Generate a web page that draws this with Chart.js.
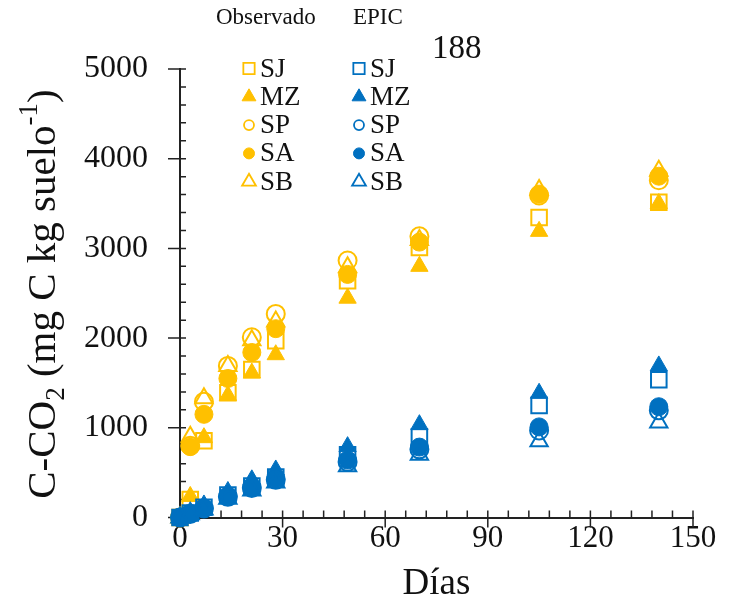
<!DOCTYPE html>
<html>
<head>
<meta charset="utf-8">
<script src="https://cdn.jsdelivr.net/npm/chart.js@4.4.0/dist/chart.umd.min.js"></script>
<style>
  html, body { margin: 0; padding: 0; background: #fff; }
  #wrap { width: 734px; height: 607px; }
</style>
</head>
<body>
<div id="wrap"><canvas id="co2Chart" width="734" height="607"></canvas></div>
<script>
// incubation days
const days = [0, 3, 7, 14, 21, 28, 49, 70, 105, 140];

// Observado (mg C kg suelo-1)
const obsSJ = [0, 200, 855, 1390, 1650, 1970, 2640, 3010, 3345, 3515];
const obsMZ = [0, 235, 890, 1360, 1610, 1815, 2445, 2800, 3190, 3500];
const obsSP = [0, 800, 1290, 1690, 2010, 2270, 2865, 3135, 3590, 3760];
const obsSA = [0, 790, 1150, 1550, 1840, 2105, 2710, 3070, 3605, 3805];
const obsSB = [0, 900, 1330, 1690, 1975, 2185, 2790, 3095, 3650, 3865];

// EPIC
const epicSJ = [0, 50, 115, 250, 350, 450, 700, 900, 1250, 1535];
const epicMZ = [0, 65, 140, 290, 420, 530, 790, 1035, 1385, 1690];
const epicSP = [0, 40, 100, 230, 330, 420, 620, 760, 970, 1195];
const epicSA = [0, 45, 105, 240, 340, 430, 640, 785, 1010, 1235];
const epicSB = [0, 35, 90, 210, 300, 390, 570, 700, 850, 1060];

const seriesNames = ['SJ', 'MZ', 'SP', 'SA', 'SB'];
const xTickLabels = [0, 30, 60, 90, 120, 150];
const yTickLabels = [0, 1000, 2000, 3000, 4000, 5000];

const ORANGE = '#FFC000';
const BLUE = '#0070C0';
const SERIF = "'Liberation Serif', 'Times New Roman', serif";

// marker look per series
const markerStyle = {
    SJ: { style: 'rect', r: 11, open: true },
    MZ: { style: 'triangle', r: 10, open: false },
    SP: { style: 'circle', r: 9, open: true },
    SA: { style: 'circle', r: 9, open: false },
    SB: { style: 'triangle', r: 10, open: true }
};
const legendMarker = {
    SJ: { style: 'rect', r: 8 },
    MZ: { style: 'triangle', r: 8 },
    SP: { style: 'circle', r: 5 },
    SA: { style: 'circle', r: 5.5 },
    SB: { style: 'triangle', r: 8 }
};

function makeDataset(name, values, color, idx) {
    const st = markerStyle[name];
    return {
        label: name,
        data: days.map((d, i) => ({ x: d, y: values[i] })),
        showLine: false,
        clip: false,
        order: 20 - idx, // first series drawn at the bottom
        pointStyle: st.style,
        pointRadius: st.r,
        pointHoverRadius: st.r,
        pointBorderWidth: st.open ? 2 : 1,
        pointBorderColor: color,
        pointBackgroundColor: st.open ? 'rgba(255,255,255,0)' : color
    };
}

const obsValues = [obsSJ, obsMZ, obsSP, obsSA, obsSB];
const epicValues = [epicSJ, epicMZ, epicSP, epicSA, epicSB];
const datasets = [];
seriesNames.forEach((n, i) => datasets.push(makeDataset(n, obsValues[i], ORANGE, i)));
seriesNames.forEach((n, i) => datasets.push(makeDataset(n, epicValues[i], BLUE, i + 5)));

// minor + major tick marks crossing the axes
const tickMarks = {
    id: 'tickMarks',
    beforeDatasetsDraw(chart) {
        const ctx = chart.ctx;
        const xs = chart.scales.x, ys = chart.scales.y;
        const x0 = xs.getPixelForValue(0), y0 = ys.getPixelForValue(0);
        ctx.save();
        ctx.strokeStyle = '#222';
        ctx.lineWidth = 1.5;
        ctx.beginPath();
        for (let v = 0; v <= 150; v += 6) {
            const px = xs.getPixelForValue(v);
            const major = xTickLabels.includes(v);
            ctx.moveTo(px, y0 - 7);
            ctx.lineTo(px, major ? y0 + 10 : y0);
        }
        for (let v = 0; v <= 5000; v += 200) {
            const py = ys.getPixelForValue(v);
            const major = yTickLabels.includes(v);
            ctx.moveTo(major ? x0 - 12 : x0, py);
            ctx.lineTo(x0 + 6, py);
        }
        ctx.stroke();
        ctx.restore();
    }
};

// legend block, panel label and the y axis title with sub/superscripts
const annotations = {
    id: 'annotations',
    afterDraw(chart) {
        const ctx = chart.ctx;
        ctx.save();
        ctx.fillStyle = '#111';
        ctx.textBaseline = 'middle';
        ctx.textAlign = 'left';
        ctx.font = '23px ' + SERIF;
        ctx.fillText('Observado', 216, 18);
        ctx.fillText('EPIC', 353, 18);
        ctx.font = '33px ' + SERIF;
        ctx.fillText('188', 432, 49);

        const cols = [{ mx: 249, tx: 260, color: ORANGE }, { mx: 359, tx: 370, color: BLUE }];
        ctx.font = '27px ' + SERIF;
        cols.forEach(col => {
            seriesNames.forEach((name, i) => {
                const y = 68.5 + i * 28.3;
                const lm = legendMarker[name];
                const open = markerStyle[name].open;
                ctx.fillStyle = open ? '#ffffff' : col.color;
                ctx.strokeStyle = col.color;
                ctx.lineWidth = open ? 1.8 : 1;
                Chart.helpers.drawPoint(ctx, { pointStyle: lm.style, radius: lm.r, rotation: 0, borderWidth: ctx.lineWidth }, col.mx, y);
                ctx.fillStyle = '#111';
                ctx.fillText(name, col.tx, y + 1);
            });
        });

        // y axis title
        const size = 41;
        const parts = [
            { t: 'C-CO', k: 1, dy: 0 },
            { t: '2', k: 0.65, dy: 0.22 },
            { t: ' (mg C kg suelo', k: 1, dy: 0 },
            { t: '-1', k: 0.65, dy: -0.42 },
            { t: ')', k: 1, dy: 0 }
        ];
        let total = 0;
        parts.forEach(p => {
            ctx.font = Math.round(size * p.k) + 'px ' + SERIF;
            p.w = ctx.measureText(p.t).width;
            total += p.w;
        });
        ctx.translate(41, 294);
        ctx.rotate(-Math.PI / 2);
        ctx.textBaseline = 'alphabetic';
        let x = -total / 2;
        const base = size * 0.33;
        parts.forEach(p => {
            ctx.font = Math.round(size * p.k) + 'px ' + SERIF;
            ctx.fillText(p.t, x, base + p.dy * size);
            x += p.w;
        });
        ctx.restore();
    }
};

new Chart(document.getElementById('co2Chart'), {
    type: 'scatter',
    data: { datasets: datasets },
    options: {
        responsive: false,
        animation: false,
        events: [],
        layout: { padding: { left: 0, right: 41, top: 69, bottom: 0 } },
        plugins: { legend: { display: false }, tooltip: { enabled: false } },
        scales: {
            x: {
                type: 'linear',
                min: 0,
                max: 150,
                afterBuildTicks: s => { s.ticks = xTickLabels.map(v => ({ value: v })); },
                afterFit: s => { s.height = 89.5; },
                grid: { display: false, drawTicks: false },
                border: { display: true, color: '#222', width: 2 },
                ticks: { autoSkip: false, maxRotation: 0, padding: 3, color: '#111', font: { family: SERIF, size: 31 }, callback: v => String(v) },
                title: { display: true, text: 'Días', color: '#111', font: { family: SERIF, size: 37 }, padding: { top: 0, bottom: 1 } }
            },
            y: {
                type: 'linear',
                min: 0,
                max: 5000,
                afterBuildTicks: s => { s.ticks = yTickLabels.map(v => ({ value: v })); },
                afterFit: s => { s.width = 180; },
                grid: { display: false, drawTicks: false },
                border: { display: true, color: '#222', width: 2 },
                ticks: { padding: 32, color: '#111', font: { family: SERIF, size: 32 }, callback: v => String(v) }
            }
        }
    },
    plugins: [tickMarks, annotations]
});
</script>
</body>
</html>
